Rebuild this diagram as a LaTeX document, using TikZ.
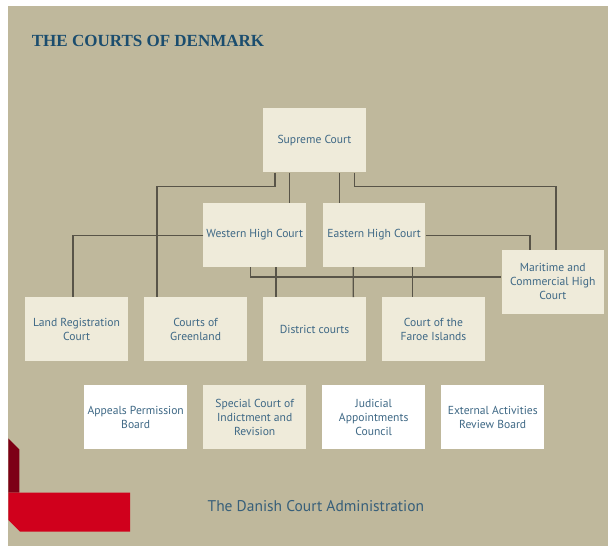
\documentclass[tikz,border=0pt]{standalone}
\usepackage{fontspec}
\setmainfont{PT Sans}
\newfontfamily\headfont{Liberation Serif}
\usepackage{tikz}

\begin{document}
\begin{tikzpicture}[x=1pt,y=-1pt,
  court/.style={fill={rgb, 255:red, 239; green, 235; blue, 218}, minimum width=102.5pt, minimum height=64pt, inner sep=1pt, align=center, text={rgb, 255:red, 62; green, 104; blue, 133}, font=\fontsize{11.6}{14}\selectfont},
  board/.style={court, fill=white},
  link/.style={draw={rgb, 255:red, 88; green, 84; blue, 72}, line width=1.4pt}]
\useasboundingbox (0,0) rectangle (608,546);

%Shape: Rectangle [page]
\fill [white] (0,0) rectangle (608,546);
%Shape: Rectangle [panel]
\fill [color={rgb, 255:red, 191; green, 184; blue, 156}] (8.3,6) rectangle (608,546);

%Shape: Polygon [dark red bar]
\fill [color={rgb, 255:red, 125; green, 0; blue, 22}] (8.3,438.3) -- (19.3,449.3) -- (19.3,492.7) -- (8.3,492.7) -- cycle;
%Shape: Polygon [red bar]
\fill [color={rgb, 255:red, 208; green, 0; blue, 28}] (8.3,492.7) -- (130,492.7) -- (130,531.7) -- (20,531.7) -- (8.3,520) -- cycle;

% Text Node
\draw (31.7,40.5) node [anchor=west, inner sep=0pt, text={rgb, 255:red, 27; green, 77; blue, 110}, font=\headfont\bfseries\fontsize{17}{20}\selectfont] (title) {THE COURTS OF DENMARK};

%Shape: Box [top]
\draw (314.5,140.3) node [court] (sup) {Supreme Court};
%Shape: Box [high courts]
\draw (254.7,234.8) node [court] (west) {Western High Court};
\draw (374.2,234.8) node [court] (east) {Eastern High Court};
\draw (552.8,281.7) node [court] (mar) {Maritime and\\Commercial High\\Court};
%Shape: Box [lower courts]
\draw (76.6,329.2) node [court] (land) {Land Registration\\Court};
\draw (195.6,329.2) node [court] (green) {Courts of\\Greenland};
\draw (314.5,329.2) node [court] (dist) {District courts};
\draw (433.4,329.2) node [court] (faroe) {Court of the\\Faroe Islands};
%Shape: Box [boards]
\draw (135.7,417) node [board] (appeal) {Appeals Permission\\Board};
\draw (254.7,417) node [court] (special) {Special Court of\\Indictment and\\Revision};
\draw (373.7,417) node [board] (judicial) {Judicial\\Appointments\\Council};
\draw (492.7,417) node [board] (extern) {External Activities\\Review Board};

%Straight Lines [from supreme court]
\draw [link] ([xshift=-39.5pt]sup.south) -- ++(0,13.7) -| ([xshift=-38.6pt]green.north);
\draw [link] ([xshift=-24.8pt]sup.south) -- ([xshift=35pt]west.north);
\draw [link] ([xshift=24.8pt]sup.south) -- ([xshift=-34.9pt]east.north);
\draw [link] ([xshift=39.8pt]sup.south) -- ++(0,13.7) -| ([xshift=3.2pt]mar.north);

%Straight Lines [from western high court]
\draw [link] ([yshift=-0.9pt]west.west) -| ([xshift=-3.7pt]land.north);
\draw [link] ([xshift=-4pt]west.south) |- ([yshift=4.7pt]mar.west);
\draw [link] ([xshift=21.3pt]west.south) -- ([xshift=-38.5pt]dist.north);

%Straight Lines [from eastern high court]
\draw [link] ([yshift=-0.9pt]east.east) -| ([xshift=-22.8pt]mar.north);
\draw [link] ([xshift=-21pt]east.south) -- ([xshift=38.8pt]dist.north);
\draw [link] ([xshift=38.5pt]east.south) -- ([xshift=-20.7pt]faroe.north);

% Text Node
\draw (315.9,505.7) node [text={rgb, 255:red, 55; green, 95; blue, 122}, font=\fontsize{15.5}{18}\selectfont] (admin) {The Danish Court Administration};

\end{tikzpicture}
\end{document}
